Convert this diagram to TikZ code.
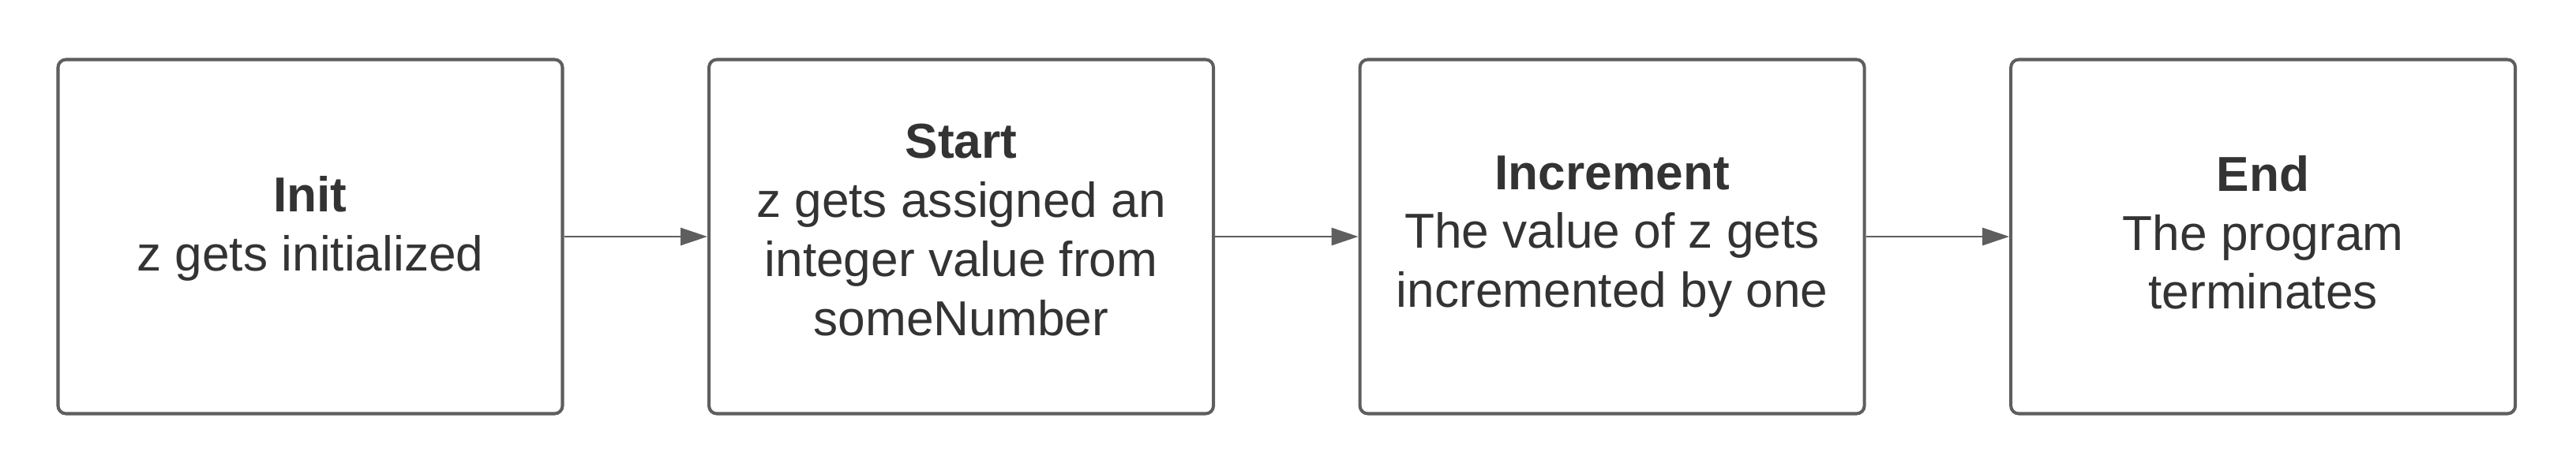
\documentclass[tikz,border=0pt]{standalone}
\usepackage{fontspec}
\setmainfont{Liberation Sans}
\usetikzlibrary{positioning,arrows.meta}
\definecolor{edgegray}{HTML}{5E5E5E}
\definecolor{textgray}{HTML}{333333}
\newcommand{\liftby}[1]{\rule[-#1]{0pt}{#1}}
\tikzset{
  stagebox/.style={draw=edgegray, line width=1.15pt, rounded corners=0.1cm,
    minimum width=6.39cm, minimum height=4.49cm, align=center,
    text=textgray, font=\fontsize{17.7}{21.3}\selectfont},
  flow/.style={draw=edgegray, line width=0.85pt,
    -{Triangle[length=0.34cm, width=0.22cm]}}
}
\begin{document}
\begin{tikzpicture}[node distance=1.815cm]
      \useasboundingbox (0,0) rectangle (32.63,6);
      \node[stagebox] (init) at (3.93,3.0)
        {\textbf{Init}\\z gets initialized\liftby{0.33cm}};
      \node[stagebox, right=of init] (start)
        {\textbf{Start}\\z gets assigned an\\integer value from\\someNumber\liftby{0.18cm}};
      \node[stagebox, right=of start] (increment)
        {\textbf{Increment}\\The value of z gets\\incremented by one};
      \node[stagebox, right=of increment] (end)
        {\textbf{End}\\The program\\terminates\liftby{0.11cm}};
      \begin{scope}[flow]
        \draw (init) to (start);
        \draw (start) to (increment);
        \draw (increment) to (end);
      \end{scope}
    \end{tikzpicture}
\end{document}
